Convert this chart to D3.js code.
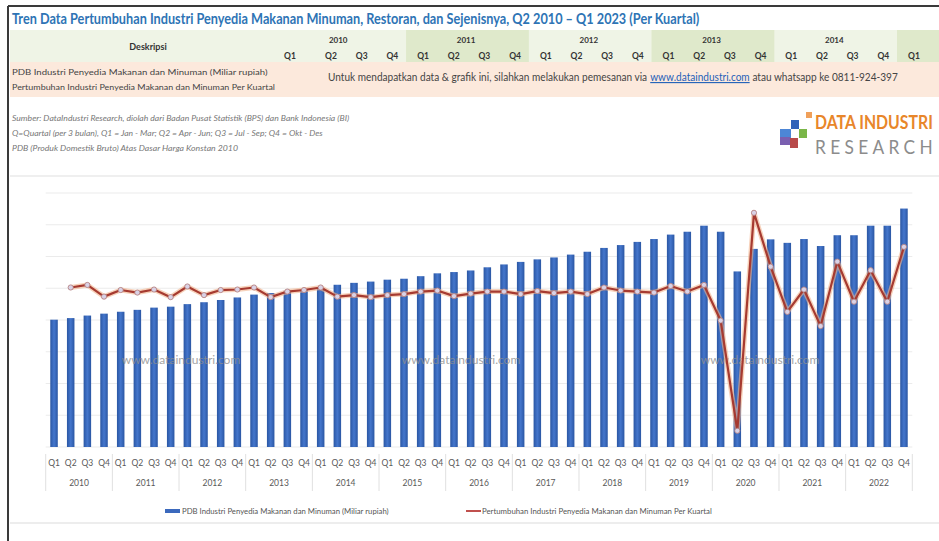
<!DOCTYPE html>
<html>
<head>
<meta charset="utf-8">
<script src="https://cdn.jsdelivr.net/npm/d3@7"></script>
<style>
  body { margin: 0; background: #fff; }
  svg { display: block; font-family: Lato, "Open Sans", sans-serif; }
</style>
</head>
<body>
<svg id="chart" width="939" height="541"></svg>
<script>
// tahun & kuartal
const years = ["2010", "2011", "2012", "2013", "2014", "2015", "2016", "2017", "2018", "2019", "2020", "2021", "2022"];
const quarterNames = ["Q1", "Q2", "Q3", "Q4"];

// PDB Industri Penyedia Makanan dan Minuman (Miliar rupiah), 2010 Q1 .. 2022 Q4
const pdbValues = [
  40100, 40600, 41400, 42000,
  42600, 43200, 43900, 44200,
  45000, 45600, 46300, 47100,
  48000, 48500, 49200, 49500,
  50100, 51100, 51700, 52100,
  52700, 53000, 53800, 54700,
  55100, 55600, 56600, 57500,
  58300, 59100, 59700, 60600,
  61500, 62700, 63600, 64600,
  65500, 66900, 67800, 69700,
  67800, 55300, 62400, 65400,
  64300, 65500, 63300, 66700,
  66700, 69700, 69700, 75100
];

// Pertumbuhan (%) per kuartal, mulai 2010 Q2
const growthValues = [
  null, 6.4, 6.9, 4.6,
  5.9, 5.4, 6.0, 4.5,
  6.6, 4.9, 5.9, 6.0,
  6.4, 4.5, 5.6, 5.9,
  6.4, 4.6, 4.9, 4.5,
  4.9, 5.1, 5.6, 5.8,
  4.7, 5.2, 5.6, 5.6,
  5.1, 5.7, 5.3, 5.6,
  5.1, 6.4, 5.8, 5.6,
  5.4, 6.7, 5.6, 6.9,
  -0.1, -21.8, 21.1, 10.5,
  1.6, 6.0, -1.2, 11.5,
  3.6, 9.8, 3.6, 14.4
];

// header tabel
const headerYears = ["2010", "2011", "2012", "2013", "2014"];
const headerQuarters = ["Q1", "Q2", "Q3", "Q4", "Q1", "Q2", "Q3", "Q4", "Q1", "Q2", "Q3", "Q4",
  "Q1", "Q2", "Q3", "Q4", "Q1", "Q2", "Q3", "Q4", "Q1"];

const notes = [
  "Sumber: DataIndustri Research, diolah dari Badan Pusat Statistik (BPS) dan Bank Indonesia (BI)",
  "Q=Quartal (per 3 bulan), Q1 = Jan - Mar; Q2 = Apr - Jun; Q3 = Jul - Sep; Q4 = Okt - Des",
  "PDB (Produk Domestik Bruto) Atas Dasar Harga Konstan 2010"
];

const legendNames = [
  "PDB Industri Penyedia Makanan dan Minuman (Miliar rupiah)",
  "Pertumbuhan Industri Penyedia Makanan dan Minuman Per Kuartal"
];

const infoParts = [
  "Untuk mendapatkan data & grafik ini, silahkan melakukan pemesanan via ",
  "www.dataindustri.com",
  " atau whatsapp ke 0811-924-397"
];

const svg = d3.select("#chart");

// squeeze a text horizontally to a target width (keeps glyph height)
function fitText(sel, x, y, width) {
  const w = sel.node().getComputedTextLength();
  sel.attr("x", 0).attr("y", 0)
    .attr("transform", `translate(${x},${y}) scale(${width / w},1)`);
}

// frame
svg.append("line").attr("x1", 8).attr("x2", 939).attr("y1", 6).attr("y2", 6)
  .attr("stroke", "#3a3a3a").attr("stroke-width", 2);
svg.append("line").attr("x1", 8).attr("x2", 8).attr("y1", 6).attr("y2", 541)
  .attr("stroke", "#3a3a3a").attr("stroke-width", 2);

// title
const title = svg.append("text")
  .attr("font-size", 15).attr("font-weight", "bold").attr("fill", "#2e74b5")
  .text("Tren Data Pertumbuhan Industri Penyedia Makanan Minuman, Restoran, dan Sejenisnya, Q2 2010 \u2013 Q1 2023 (Per Kuartal)");
fitText(title, 12, 24, 688);

// header table
const hdrX = d3.scaleLinear().domain([1, 20]).range([331, 914]);
const hdrPos = i => i === 0 ? 290 : hdrX(i);

svg.append("rect").attr("x", 10).attr("y", 30).attr("width", 929).attr("height", 32).attr("fill", "#eff4e6");
headerYears.concat(["2015"]).forEach((y, k) => {
  if (k % 2 === 1) {
    const x0 = hdrPos(4 * k) - 17;
    svg.append("rect").attr("x", x0).attr("y", 30)
      .attr("width", Math.min(4 * 30.7, 939 - x0)).attr("height", 32).attr("fill", "#dfe9cb");
  }
});
svg.append("rect").attr("x", 10).attr("y", 62).attr("width", 929).attr("height", 35).attr("fill", "#fce9dc");

svg.append("text").attr("x", 148).attr("y", 50).attr("text-anchor", "middle")
  .attr("font-size", 9).attr("font-weight", "bold").attr("fill", "#333").text("Deskripsi");

svg.append("g").selectAll("text").data(headerYears).join("text")
  .attr("x", (d, k) => (hdrPos(4 * k) + hdrPos(4 * k + 3)) / 2 - 3)
  .attr("y", 43).attr("text-anchor", "middle")
  .attr("font-size", 8).attr("font-weight", "bold").attr("fill", "#333")
  .text(d => d);

svg.append("g").selectAll("text").data(headerQuarters).join("text")
  .attr("x", (d, i) => hdrPos(i))
  .attr("y", 59).attr("text-anchor", "middle")
  .attr("font-size", 8.5).attr("font-weight", "bold").attr("fill", "#333")
  .text(d => d);

fitText(svg.append("text").attr("font-size", 8.5).attr("fill", "#444").text(legendNames[0]), 12, 75, 256);
fitText(svg.append("text").attr("font-size", 8.5).attr("fill", "#444").text(legendNames[1]), 12, 90, 263);

// info line: three pieces laid end to end, scaled to fit
const info = svg.append("g");
let cx = 0;
infoParts.forEach((t, i) => {
  const el = info.append("text").attr("x", cx).attr("y", 0).attr("font-size", 11)
    .attr("fill", i === 1 ? "#1f5fb8" : "#444")
    .attr("text-decoration", i === 1 ? "underline" : null)
    .attr("xml:space", "preserve").style("white-space", "pre")
    .text(t);
  cx += el.node().getComputedTextLength();
});
info.attr("transform", `translate(328,81) scale(${570 / cx},1)`);

// notes
svg.append("g").selectAll("text").data(notes).join("text")
  .attr("font-size", 8).attr("font-style", "italic").attr("fill", "#777")
  .text(d => d)
  .each(function (d, i) { fitText(d3.select(this), 12, 121 + i * 15, [338, 311, 226][i]); });

// logo
const logo = svg.append("g");
[[806, 112, 6, 6, "#f0a05a"], [791, 120, 8, 9, "#2f62b8"], [799, 129, 8, 9, "#7ab648"],
 [780, 129, 11, 15, "#4d86d6"], [790, 138, 8, 10, "#b84a4a"], [780, 137, 10, 8, "#7a5fb0"]]
  .forEach(r => logo.append("rect").attr("x", r[0]).attr("y", r[1]).attr("width", r[2]).attr("height", r[3]).attr("fill", r[4]));
fitText(logo.append("text").attr("font-size", 19).attr("font-weight", "bold")
  .attr("fill", "#e8862a").text("DATA INDUSTRI"), 815, 129, 118);
fitText(logo.append("text").attr("font-size", 20).attr("letter-spacing", 5)
  .attr("fill", "#8c8c8c").text("RESEARCH"), 815, 154, 122);

svg.append("line").attr("x1", 10).attr("x2", 939).attr("y1", 176).attr("y2", 176)
  .attr("stroke", "#efefef").attr("stroke-width", 2);

// ---- chart ----
const idx = d3.range(pdbValues.length);
const x = d3.scaleBand().domain(idx).range([45.7, 912.3]).paddingInner(0.55).paddingOuter(0.275);
const xYear = d3.scaleBand().domain(years).range([45.7, 912.3]);
const yL = d3.scaleLinear().domain([0, 80000]).range([447, 193]);
const yR = d3.scaleLinear().domain([-25, 25]).range([447, 193]);

// grid
svg.append("g").selectAll("line").data(yL.ticks(8)).join("line")
  .attr("x1", 45.7).attr("x2", 912.3)
  .attr("y1", d => yL(d)).attr("y2", d => yL(d))
  .attr("stroke", "#ebebeb").attr("stroke-width", 1.2);

const defs = svg.append("defs");
const grad = defs.append("linearGradient").attr("id", "barGrad").attr("x1", "0").attr("x2", "1").attr("y1", "0").attr("y2", "0");
grad.append("stop").attr("offset", "0%").attr("stop-color", "#2a56a3");
grad.append("stop").attr("offset", "50%").attr("stop-color", "#4476cc");
grad.append("stop").attr("offset", "100%").attr("stop-color", "#2a56a3");

svg.append("g").selectAll("rect").data(pdbValues).join("rect")
  .attr("x", (d, i) => x(i))
  .attr("width", x.bandwidth())
  .attr("y", d => yL(d))
  .attr("height", d => yL(0) - yL(d))
  .attr("fill", "url(#barGrad)");

// watermark (over the bars)
svg.append("g").selectAll("text").data([181, 461, 760]).join("text")
  .attr("x", d => d).attr("y", 364).attr("text-anchor", "middle")
  .attr("font-size", 12).attr("fill", "#8f8f8f").attr("opacity", 0.8)
  .text("www.dataindustri.com");

const line = d3.line()
  .defined(d => d != null)
  .x((d, i) => x(i) + x.bandwidth() / 2)
  .y(d => yR(d));

svg.append("path").datum(growthValues).attr("d", line)
  .attr("fill", "none").attr("stroke", "#f1b48e").attr("stroke-width", 5).attr("opacity", 0.6)
  .attr("stroke-linejoin", "round");
svg.append("path").datum(growthValues).attr("d", line)
  .attr("fill", "none").attr("stroke", "#a63a30").attr("stroke-width", 2.2)
  .attr("stroke-linejoin", "round");

svg.append("g").selectAll("circle")
  .data(growthValues.map((v, i) => ({ v, i })).filter(d => d.v != null))
  .join("circle")
  .attr("cx", d => x(d.i) + x.bandwidth() / 2)
  .attr("cy", d => yR(d.v))
  .attr("r", 2.6)
  .attr("fill", "#d9d2e6").attr("stroke", "#b07a7a").attr("stroke-width", 0.8);

// x axis: quarters
const xAxis = d3.axisBottom(x).tickSize(0).tickFormat(i => quarterNames[i % 4]);
const gx = svg.append("g").attr("transform", "translate(0,457)").call(xAxis);
gx.select(".domain").remove();
gx.selectAll("text").attr("font-size", 8.5).attr("fill", "#595959").attr("font-family", "Lato, sans-serif");

// years
svg.append("g").selectAll("text").data(years).join("text")
  .attr("x", d => xYear(d) + xYear.bandwidth() / 2)
  .attr("y", 486).attr("text-anchor", "middle")
  .attr("font-size", 8.5).attr("fill", "#595959")
  .text(d => d);

svg.append("g").selectAll("line").data(years.concat(["end"])).join("line")
  .attr("x1", (d, i) => 45.7 + i * xYear.bandwidth())
  .attr("x2", (d, i) => 45.7 + i * xYear.bandwidth())
  .attr("y1", 454).attr("y2", 491)
  .attr("stroke", "#e0e0e0").attr("stroke-width", 1);

// legend
svg.append("rect").attr("x", 165).attr("y", 509).attr("width", 15).attr("height", 4).attr("fill", "#3b69bd");
fitText(svg.append("text").attr("font-size", 8.5).attr("fill", "#555").text(legendNames[0]), 182, 514, 207);
svg.append("line").attr("x1", 466).attr("x2", 481).attr("y1", 511).attr("y2", 511)
  .attr("stroke", "#c0504d").attr("stroke-width", 2);
fitText(svg.append("text").attr("font-size", 8.5).attr("fill", "#555").text(legendNames[1]), 482, 514, 230);

svg.append("line").attr("x1", 10).attr("x2", 939).attr("y1", 523).attr("y2", 523)
  .attr("stroke", "#ededed").attr("stroke-width", 2);
</script>
</body>
</html>
